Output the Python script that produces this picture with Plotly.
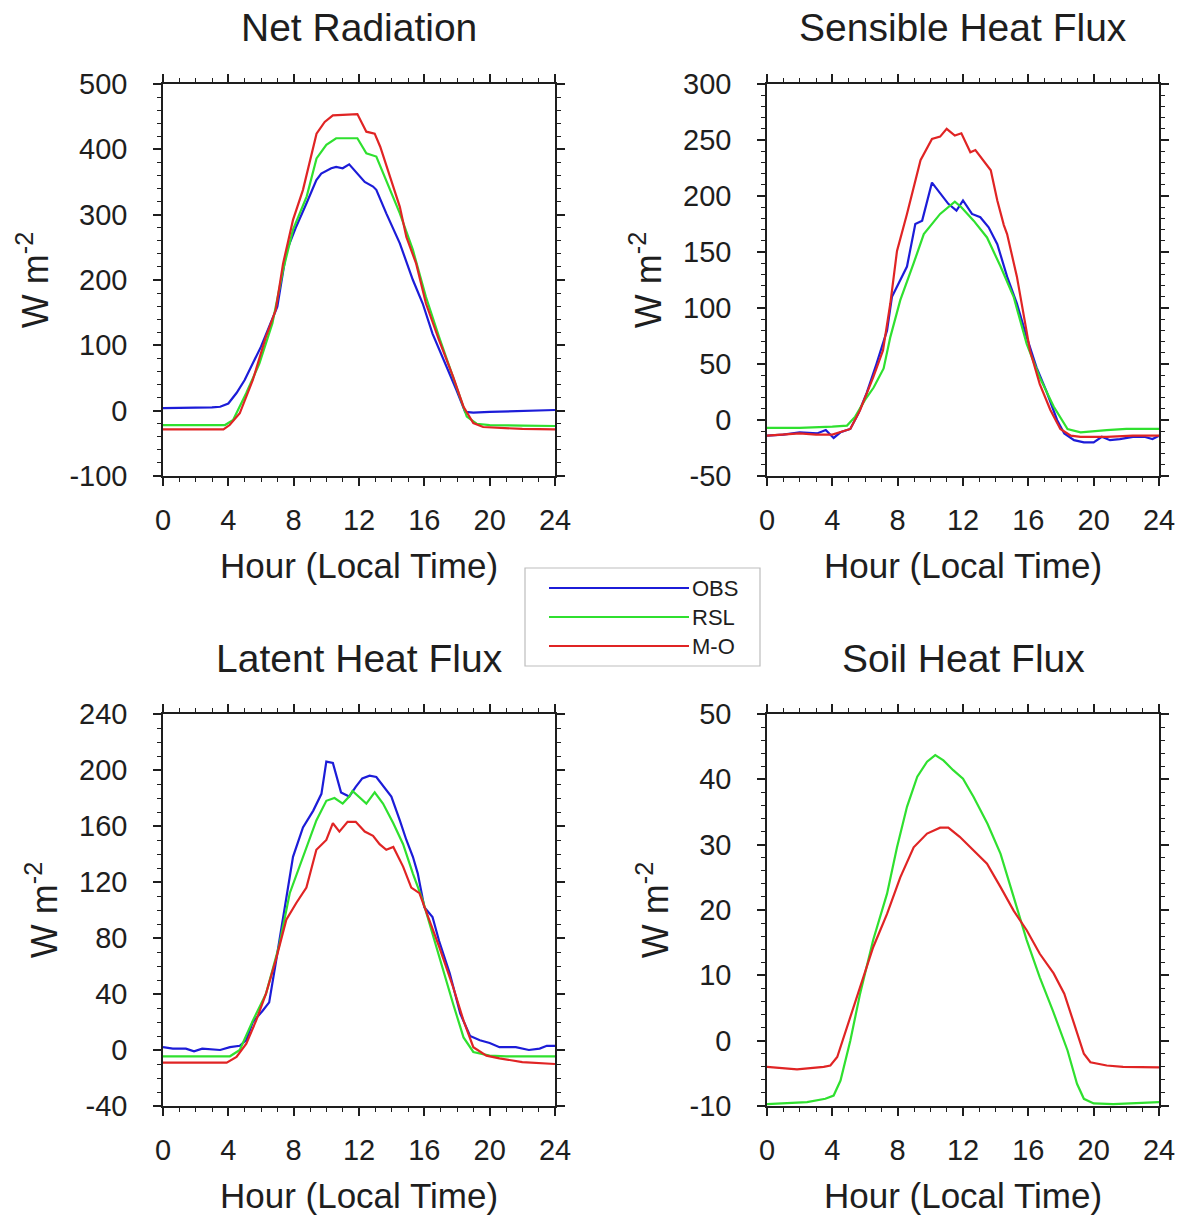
import plotly.graph_objects as go

W, H = 1178, 1215

# ---------------- data ----------------
# Net Radiation
nr_obs_hr = [0, 1, 2, 3, 3.5, 4, 4.5, 5, 6, 7, 7.55, 8.16, 8.78, 9.39, 9.69, 10.3, 10.6, 11.0, 11.4, 11.8,
             12.35, 12.86, 13.06, 13.67, 14.5, 15.3, 15.9, 16.5, 17.3, 17.96, 18.5, 19.0, 20, 22, 24]
nr_obs = [4, 4, 4, 5, 6, 11, 27, 47, 98, 159, 243, 282, 317, 353, 363, 371, 373, 371, 377, 366,
          350, 343, 338, 302, 256, 200, 164, 118, 72, 32, -2, -3, -2, -1, 1]
nr_rsl_hr = [0, 2, 3.8, 4.3, 5.1, 5.9, 6.7, 7.35, 7.96, 8.8, 9.4, 10.0, 10.6, 11.9, 12.45, 13.06, 13.67,
             14.5, 15.3, 16.1, 16.9, 17.76, 18.6, 19.2, 20, 22, 24]
nr_rsl = [-22, -22, -22, -14, 27, 72, 134, 215, 277, 328, 386, 407, 417, 417, 394, 389, 353,
          302, 246, 174, 113, 52, -9, -20, -22, -23, -23.5]
nr_mo_hr = [0, 2, 3.7, 4.08, 4.7, 5.5, 6.3, 6.9, 7.35, 7.96, 8.57, 9.4, 9.9, 10.4, 11.9, 12.45, 12.96,
            13.3, 13.9, 14.5, 14.9, 15.5, 16.1, 16.9, 17.76, 18.4, 19.0, 19.6, 22, 24]
nr_mo = [-28.6, -28.6, -28.6, -22, -4, 47, 113, 154, 225, 292, 338, 424, 442, 452, 454, 427, 424,
         404, 358, 312, 266, 225, 164, 108, 52, 6, -19, -25, -28, -28.6]

# Sensible Heat Flux
sh_obs_hr = [0, 1.0, 2.0, 3.06, 3.6, 4.08, 4.5, 5.1, 5.6, 6.1, 6.7, 7.35, 7.65, 7.96, 8.57, 9.08, 9.5,
             10.1, 10.6, 11.1, 11.6, 12.0, 12.55, 13.06, 13.57, 14.1, 14.7, 15.3, 15.9, 16.5, 17.1,
             17.76, 18.2, 18.8, 19.4, 20, 20.5, 21, 21.6, 22.4, 23.1, 23.6, 24]
sh_obs = [-14, -13, -11, -12, -9, -16, -11, -8, 6, 24, 50, 80, 110, 119, 137, 175, 178,
          212, 202, 193, 187, 196, 184, 181, 172, 157, 128, 104, 74, 47, 26,
          0, -12, -18, -20, -20, -15, -18, -17, -15, -15, -17, -14]
sh_rsl_hr = [0, 2, 4, 4.9, 5.4, 6.0, 6.53, 7.14, 7.55, 8.16, 8.98, 9.6, 10.6, 11.5, 11.9, 12.65, 13.47,
             14.3, 15.1, 15.9, 16.7, 17.55, 18.4, 19.2, 20.8, 22.0, 24]
sh_rsl = [-7, -7, -6, -5, 3, 18, 29, 46, 74, 107, 140, 166, 184, 195, 190, 178, 163,
          137, 110, 68, 38, 12, -8, -11, -9, -8, -8]
sh_mo_hr = [0, 1, 2, 3, 4, 5.1, 5.7, 6.5, 7.1, 7.55, 7.96, 8.57, 9.4, 10.1, 10.6, 11.0, 11.5, 11.9,
            12.45, 12.76, 13.06, 13.7, 14.1, 14.5, 14.7, 15.3, 16.1, 16.7, 17.35, 17.96, 18.6, 19.2,
            20.8, 22.4, 24]
sh_mo = [-14, -13, -12, -13, -13, -8, 9, 38, 62, 104, 151, 184, 232, 251, 253, 260, 254, 256,
         239, 241, 235, 223, 196, 174, 166, 128, 62, 32, 9, -8, -14, -15, -15, -14, -14]

# Latent Heat Flux
lh_obs_hr = [0, 0.6, 1.4, 1.9, 2.4, 3.5, 4.1, 4.7, 5.1, 5.5, 6.1, 6.5, 6.9, 7.55, 7.96, 8.57, 9.2, 9.7,
             10.0, 10.4, 10.9, 11.4, 11.8, 12.2, 12.65, 13.06, 13.47, 13.98, 14.5, 14.9, 15.3, 15.6,
             16.0, 16.5, 16.9, 17.55, 18.2, 18.8, 19.4, 20.0, 20.6, 21.6, 22.4, 23.06, 23.5, 24]
lh_obs = [2, 1, 1, -1, 1, 0, 2, 3, 7, 20, 28, 34, 62, 107, 138, 159, 171, 183,
          206, 205, 184, 181, 188, 194, 196, 195, 189, 181, 164, 150, 138, 126,
          102, 95, 78, 55, 26, 10, 7, 5, 2, 2, 0, 1, 3, 3]
lh_rsl_hr = [0, 2, 4.1, 4.7, 5.5, 6.3, 7.1, 7.76, 8.37, 8.98, 9.39, 10.0, 10.5, 11.0, 11.4, 11.6, 11.9,
             12.45, 12.96, 13.47, 14.1, 14.7, 15.3, 15.9, 16.5, 17.1, 17.76, 18.4, 19.0, 20.0, 21, 24]
lh_rsl = [-4.5, -4.5, -4.5, 0, 21, 40, 74, 112, 131, 150, 164, 178, 180, 176, 181, 185, 182,
          176, 184, 176, 162, 147, 126, 107, 83, 59, 33, 9, -1.4, -4, -4.5, -4.5]
lh_mo_hr = [0, 2, 3.9, 4.5, 5.1, 5.7, 6.3, 6.9, 7.55, 8.16, 8.78, 9.39, 10.0, 10.4, 10.8, 11.3, 11.8,
            12.35, 12.86, 13.26, 13.67, 14.1, 14.7, 15.2, 15.7, 16.3, 16.9, 17.76, 18.4, 19.0, 19.8,
            20.6, 22.0, 24]
lh_mo = [-9, -9, -9, -5, 4.5, 21, 40, 64, 93, 105, 116, 143, 150, 162, 156, 163, 163,
         156, 153, 147, 143, 145, 131, 116, 112, 93, 74, 45, 21, 2, -4,
         -6, -8.6, -10]

# Soil Heat Flux (no observations)
sg_rsl_hr = [0, 2.45, 3.57, 4.08, 4.5, 5.1, 5.7, 6.5, 7.35, 7.96, 8.57, 9.2, 9.8, 10.3, 10.8, 11.4, 12.0,
             12.65, 13.5, 14.3, 15.1, 15.9, 16.7, 17.5, 18.4, 18.98, 19.4, 20, 21.2, 22.9, 24]
sg_rsl = [-9.7, -9.4, -8.9, -8.4, -6.1, 0, 7.2, 15.4, 22.5, 29.6, 35.8, 40.4, 42.7, 43.7, 42.9, 41.4, 40.1,
          37.3, 33.2, 28.6, 22.0, 15.4, 9.7, 4.6, -1.5, -6.6, -8.9, -9.6, -9.7, -9.5, -9.4]
sg_mo_hr = [0, 1.84, 3.47, 3.88, 4.3, 4.9, 5.7, 6.5, 7.35, 8.16, 8.98, 9.8, 10.6, 11.1, 11.8, 12.65,
            13.47, 14.3, 15.1, 15.9, 16.7, 17.55, 18.2, 18.8, 19.4, 19.8, 20.8, 21.8, 24]
sg_mo = [-4, -4.4, -4.0, -3.8, -2.5, 2.1, 8.2, 14.3, 19.4, 25.0, 29.6, 31.7, 32.6, 32.6, 31.2, 29.1,
         27.1, 23.5, 19.9, 16.9, 13.3, 10.3, 7.2, 2.6, -2.0, -3.3, -3.8, -4.0, -4.1]

titles = ["Net Radiation", "Sensible Heat Flux", "Latent Heat Flux", "Soil Heat Flux"]
y_tickvals = [
    [-100, 0, 100, 200, 300, 400, 500],
    [-50, 0, 50, 100, 150, 200, 250, 300],
    [-40, 0, 40, 80, 120, 160, 200, 240],
    [-10, 0, 10, 20, 30, 40, 50],
]
y_minor = [20, 10, 10, 2]
x_ticks = [0, 4, 8, 12, 16, 20, 24]
series_names = ["OBS", "RSL", "M-O"]
colors = {"OBS": "#1c1cd8", "RSL": "#2fe02f", "M-O": "#e02424"}

panel_series = [
    [("OBS", nr_obs_hr, nr_obs), ("RSL", nr_rsl_hr, nr_rsl), ("M-O", nr_mo_hr, nr_mo)],
    [("OBS", sh_obs_hr, sh_obs), ("RSL", sh_rsl_hr, sh_rsl), ("M-O", sh_mo_hr, sh_mo)],
    [("OBS", lh_obs_hr, lh_obs), ("RSL", lh_rsl_hr, lh_rsl), ("M-O", lh_mo_hr, lh_mo)],
    [("RSL", sg_rsl_hr, sg_rsl), ("M-O", sg_mo_hr, sg_mo)],
]

# ---------------- layout helpers ----------------
def px_x(p):
    return p / W

def px_y(p):
    return 1 - p / H

# plot boxes in pixels: (left, right, top, bottom)
boxes = [(163, 555, 84, 476), (767, 1159, 84, 476), (163, 555, 714, 1106), (767, 1159, 714, 1106)]

FONT = "Liberation Sans, Arial, Helvetica, sans-serif"
AX = "#1e1e1e"

fig = go.Figure()
layout = dict(
    template="none",
    width=W, height=H, margin=dict(l=0, r=0, t=0, b=0, autoexpand=False),
    paper_bgcolor="white", plot_bgcolor="white", showlegend=False,
    font=dict(family=FONT, color="#1e1e1e"),
)
annotations = []
shapes = []

for i, (box, series) in enumerate(zip(boxes, panel_series)):
    n = "" if i == 0 else str(i + 1)
    xa, ya = "x" + n, "y" + n
    for name, hr, val in series:
        fig.add_trace(go.Scatter(x=hr, y=val, mode="lines", name=name, xaxis=xa, yaxis=ya,
                                 line=dict(color=colors[name], width=2.2), showlegend=False))
    l, r, t, b = box
    common = dict(showline=True, linecolor=AX, linewidth=1.5, mirror="ticks", ticks="outside",
                  ticklen=8, tickwidth=1.5, tickcolor=AX, showgrid=False, zeroline=False,
                  automargin=False,
                  tickfont=dict(size=29, family=FONT, color="#1e1e1e"))
    layout["xaxis" + n] = dict(
        common, domain=[px_x(l), px_x(r)], anchor=ya, range=[0, 24],
        tickmode="array", tickvals=x_ticks, ticktext=[str(v) for v in x_ticks],
        ticklabelstandoff=9,
        minor=dict(ticks="outside", dtick=1, tick0=0, ticklen=4, tickwidth=1, tickcolor=AX),
        title=dict(text="Hour (Local Time)", font=dict(size=35, family=FONT), standoff=19),
    )
    yt = y_tickvals[i]
    layout["yaxis" + n] = dict(
        common, domain=[px_y(b), px_y(t)], anchor=xa, range=[yt[0], yt[-1]],
        tickmode="array", tickvals=yt, ticktext=[str(v) for v in yt],
        ticklabelstandoff=20,
        minor=dict(ticks="outside", dtick=y_minor[i], tick0=yt[0], ticklen=4, tickwidth=1, tickcolor=AX),
        title=dict(text="W m<sup>-2</sup>", font=dict(size=36, family=FONT), standoff=10),
    )
    annotations.append(dict(text=titles[i], xref="paper", yref="paper", x=px_x((l + r) / 2),
                            y=px_y(t - 56), xanchor="center", yanchor="middle", showarrow=False,
                            font=dict(size=39, family=FONT, color="#1e1e1e")))

# legend box drawn between panels
lg_l, lg_r, lg_t, lg_b = 525, 760, 568, 666
shapes.append(dict(type="rect", xref="paper", yref="paper", x0=px_x(lg_l), x1=px_x(lg_r),
                   y0=px_y(lg_b), y1=px_y(lg_t), line=dict(color="#bdbdbd", width=1.2),
                   fillcolor="white"))
for k, name in enumerate(series_names):
    yy = 588 + k * 29
    shapes.append(dict(type="line", xref="paper", yref="paper", x0=px_x(549), x1=px_x(689),
                       y0=px_y(yy), y1=px_y(yy), line=dict(color=colors[name], width=2)))
    annotations.append(dict(text=name, xref="paper", yref="paper", x=px_x(690), y=px_y(yy),
                            xanchor="left", yanchor="middle", showarrow=False,
                            font=dict(size=22, family=FONT, color="#1e1e1e")))

layout["annotations"] = annotations
layout["shapes"] = shapes
fig.update_layout(**layout)
fig.write_html("out.html")
